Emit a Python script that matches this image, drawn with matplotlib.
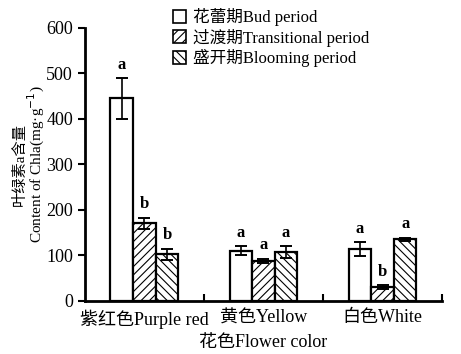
import numpy as np
import matplotlib.pyplot as plt
from matplotlib.patches import Patch

plt.rcParams['font.family'] = ['Liberation Serif', 'Noto Sans CJK SC']
plt.rcParams['hatch.linewidth'] = 0.8

groups = ['紫红色Purple red', '黄色Yellow', '白色White']
periods = ['花蕾期Bud period', '过渡期Transitional period', '盛开期Blooming period']
bud = [445, 110, 114]
bud_err = [45, 10, 15]
trans = [171, 88, 30]
trans_err = [12, 5, 4]
bloom = [103, 107, 135]
bloom_err = [12, 13, 4]
letters = [['a', 'b', 'b'], ['a', 'a', 'a'], ['a', 'b', 'a']]

fig = plt.figure(figsize=(4.61, 3.54), dpi=100)
ax = fig.add_axes([0.184, 0.150, 0.775, 0.771])

x = np.arange(len(groups))
w = 0.19
hatches = ['', '////', '\\\\\\\\']
series = [(bud, bud_err), (trans, trans_err), (bloom, bloom_err)]
for i, (vals, errs) in enumerate(series):
    pos = x + (i - 1) * w
    ax.bar(pos, vals, w, color='white', edgecolor='black', linewidth=1.6,
           hatch=hatches[i])
    ax.errorbar(pos, vals, yerr=errs, fmt='none', ecolor='black',
                elinewidth=1.2, capsize=4, capthick=1.4)
    for j in range(len(groups)):
        ax.text(pos[j], vals[j] + errs[j] + 12, letters[j][i],
                ha='center', va='bottom', fontsize=12, fontweight='bold')

ax.set_xlim(-0.5, 2.5)
ax.set_ylim(0, 600)
ax.set_yticks(range(0, 601, 100))
ax.set_xticks(x, groups)
ax.set_xticks([0.5, 1.5, 2.5], minor=True)
ax.tick_params(axis='x', which='major', length=0, labelsize=13, pad=6)
ax.tick_params(axis='x', which='minor', direction='in', length=5, width=1.5)
ax.tick_params(axis='y', direction='out', length=5, width=1.5, labelsize=13)
for s in ['top', 'right']:
    ax.spines[s].set_visible(False)
for s in ['left', 'bottom']:
    ax.spines[s].set_linewidth(2)

ax.set_xlabel('花色Flower color', fontsize=13, labelpad=4)
fig.text(0.042, 0.535, '叶绿素a含量', rotation=90, ha='center', va='center', fontsize=11)
fig.text(0.080, 0.535, 'Content of Chla(mg·g$^{-1}$)', rotation=90,
         ha='center', va='center', fontsize=11)

handles = [Patch(facecolor='white', edgecolor='black', hatch=h, linewidth=1.2) for h in hatches]
fig.legend(handles, periods, loc='upper left', bbox_to_anchor=(0.35, 1.01),
           frameon=False, fontsize=12, handlelength=0.8, handleheight=0.8,
           handletextpad=0.4, labelspacing=0.15, borderpad=0.2)

fig.savefig('out.png', dpi=100)
